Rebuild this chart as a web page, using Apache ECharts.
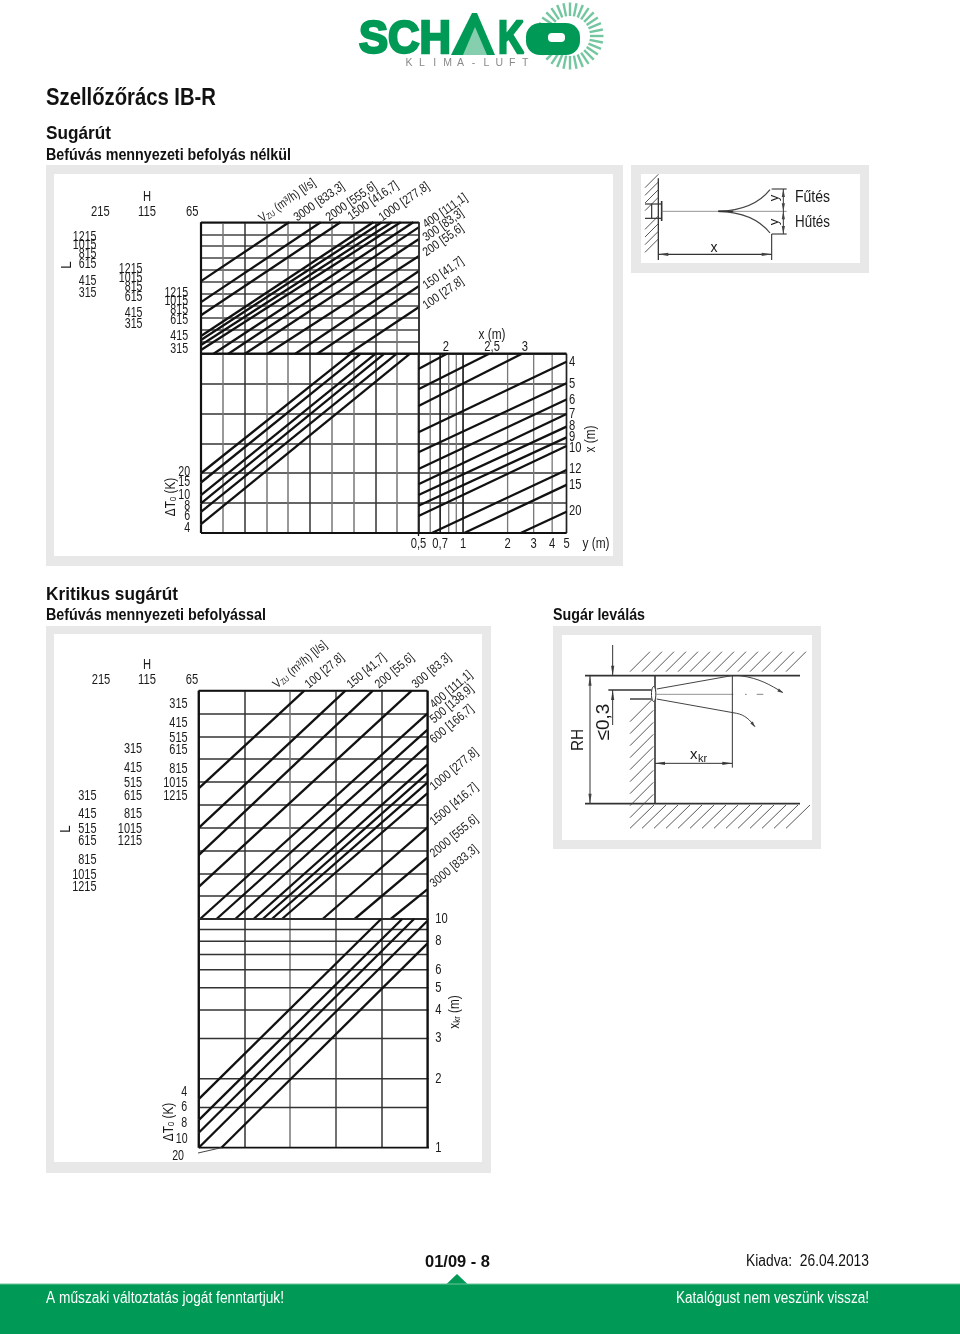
<!DOCTYPE html>
<html><head><meta charset="utf-8">
<style>html,body{margin:0;padding:0;background:#fff}#c{width:960px;height:1334px}</style>
<script src="https://cdn.jsdelivr.net/npm/echarts@6/dist/echarts.min.js"></script>
</head><body><div id="c"></div>
<script>
// ---------- data ----------
// Sugárút, upper panel: air-flow lines [col0,row0,col1,row1]
const jetFlowLines=[[0,6.09,4.04,11],[0,4.33,5.49,11],[0,3.23,6.40,11],[0,1.50,7.90,11],[0,1.17,8.29,11],[0,0.75,8.75,11],[0,0.33,9.16,11],[0.56,0,9.74,11],[1.24,0,10,10.6],[2.0,0,10,9.60],[3.03,0,10,8.19],[4.31,0,10,6.93],[5.32,0,10,5.68],[6.76,0,10,3.93]];
const jetFlowLabels=["3000 [833,3]","2000 [555,6]","1500 [416,7]","1000 [277,8]","400 [111,1]","300 [83,3]","200 [55,6]","150 [41,7]","100 [27,8]"];
const sizeLabels=["1215","1015","815","615","415","315"];
const jetRows215=[9.76,9.07,8.34,7.49,6.11,5.12];
const jetRows115=[7.08,6.37,5.62,4.78,3.41,2.51];
const jetRows65=[5.07,4.43,3.68,2.84,1.45,0.42];
// Sugárút, lower left: temperature lines
const jetDT=["20","15","10","8","6","4"];
const jetDTStart=[2.0,1.69,1.27,0.99,0.71,0.30];
const jetDTEnd=[6.88,7.33,8.01,8.41,8.98,9.59];
// Sugárút, right: throw lines, y(m) on a log axis
const throwLabels=["2","2,5","3","4","5","6","7","8","9","10","12","15","20"];
const throwStartY=[0.5,0.5,0.5,0.5,0.5,0.5,0.5,0.5,0.5,0.5,0.615,1.018,2.45];
const throwStartRow=[5.49,4.81,4.25,3.37,2.70,2.14,1.63,1.27,0.91,0.57,0,0,0];
const throwEndY=[0.777,1.50,2.5,5,5,5,5,5,5,5,5,5,5];
const throwEndRow=[6,6,6,5.73,5.01,4.47,3.98,3.56,3.20,2.91,2.11,1.61,0.71];
const yTicks=[0.5,0.6,0.7,0.8,0.9,1,2,3,4,5];
const yTickLabels=["0,5","0,7","1","2","3","4","5"];
const yTickLabelValues=[0.5,0.7,1,2,3,4,5];
// Kritikus sugárút, upper panel
const kritFlowLines=[[0,5.72,2.31,10],[0,3.99,3.21,10],[0,2.80,3.81,10],[0,1.41,4.66,10],[0.03,0,5,9.0],[0.39,0,5,8.28],[0.80,0,5,7.59],[1.20,0,5,6.77],[1.40,0,5,6.38],[1.60,0,5,5.97],[1.82,0,5,5.5],[2.71,0,5,4.0],[3.41,0,5,2.69],[4.20,0,5,1.30]];
const kritFlowLabels=["100 [27,8]","150 [41,7]","200 [55,6]","300 [83,3]","400 [111,1]","500 [138,9]","600 [166,7]","1000 [277,8]","1500 [416,7]","2000 [555,6]","3000 [833,3]"];
const kritSizes=["315","415","515","615","815","1015","1215"];
const kritRows65=[9.40,8.60,7.94,7.40,6.58,5.93,5.40];
const kritRows115=[7.42,6.60,5.94,5.40,4.58,3.93,3.39];
const kritRows215=[5.40,4.60,3.94,3.39,2.58,1.91,1.39];
// Kritikus sugárút, lower panel: x_kr on a log axis
const xkrLines=[1,1.5,2,3,4,5,6,7,8,9,10];
const xkrLabelled=[1,2,3,4,5,6,8,10];
const kritDT=["4","6","8","10","20"];
const kritDTStartCol=[0,0,0,0,0.496];
const kritDTStartX=[1.63,1.32,1.163,1.0,1.0];
const kritDTEndCol=[3.99,4.45,4.71,5,5];
const kritDTEndX=[10,10,10,9.8,7.8];

// ---------- helpers ----------
const FF='"Liberation Sans Narrow","Liberation Sans",Arial,sans-serif';
const GREEN='#009a56', INK='#111', DIAG=2.3;
const series=[];
function seg(g,pts,w,col,z){series.push({type:'line',xAxisIndex:g,yAxisIndex:g,data:pts,symbol:'none',silent:true,animation:false,clip:false,z:z||3,lineStyle:{width:w,color:col||INK,cap:'butt'}});}
const darkGray='#333',midGray='#777';
const cycle=[darkGray,midGray,darkGray,midGray,midGray,darkGray,midGray,midGray,darkGray,midGray,INK];
function valAxis(min,max,colors,w){return {type:'value',min,max,interval:1,axisLabel:{show:false},axisTick:{show:false},axisLine:{show:false},splitLine:{show:true,lineStyle:{color:colors,width:w||1.5}}};}
function logAxis(min,max){return {type:'log',logBase:10,min,max,axisLabel:{show:false},axisTick:{show:false},axisLine:{show:false},splitLine:{show:false},minorSplitLine:{show:false}};}
const grids=[
 {left:201,top:222.3,width:218,height:131.7},
 {left:201,top:353.7,width:218,height:179.3},
 {left:418.5,top:353.7,width:148,height:179.3},
 {left:198.7,top:690.7,width:228.6,height:228.3},
 {left:198.7,top:919,width:228.6,height:228.7}
];
const xAxes=[valAxis(0,10,cycle),valAxis(0,10,cycle),logAxis(0.5,5),
 valAxis(0,5,[INK,darkGray,midGray,'#444',darkGray,INK]),valAxis(0,5,[INK,darkGray,midGray,'#444',darkGray,INK])];
const yAxes=[valAxis(0,11,['#444']),valAxis(0,6,['#333']),valAxis(0,6,['#333']),valAxis(0,10,['#333']),logAxis(1,10)];
xAxes.forEach((a,i)=>a.gridIndex=i);yAxes.forEach((a,i)=>a.gridIndex=i);

jetFlowLines.forEach(l=>seg(0,[[l[0],l[1]],[l[2],l[3]]],DIAG));
const jetCols=[-4.61,-2.5,-0.41];
[[jetRows215,0],[jetRows115,1],[jetRows65,2]].forEach(([rows,k])=>{
 seg(0,[[jetCols[k],0],[jetCols[k],11]],k==2?2:1.4,k==2?'#555':INK);
 rows.forEach(r=>seg(0,[[jetCols[k]-0.16,r],[jetCols[k],r]],1,'#444'));
});
seg(0,[[0,0],[0,11]],2.2); seg(0,[[0,11],[10,11]],1.8); seg(0,[[10,0],[10,11]],1.5,'#333');
seg(1,[[0,0],[0,6]],2.2); seg(1,[[0,0],[10,0]],1.8); seg(1,[[0,6],[10,6]],2.2);
jetDTEnd.forEach((e,i)=>seg(1,[[0,jetDTStart[i]],[e,6]],DIAG));
const dtLeaderRow=[2.02,1.70,1.27,0.91,0.55,0.15];
jetDT.forEach((t,i)=>seg(1,[[-0.45,dtLeaderRow[i]+0.02],[0,jetDTStart[i]]],1,'#444'));
yTicks.forEach(v=>{const b=(v===0.7||v===1||v===0.5||v===5);seg(2,[[v,0],[v,6]],b?1.7:1.3,b?'#222':midGray);});
seg(2,[[0.5,-0.1],[0.5,0]],1.3);
seg(2,[[0.5,0],[5,0]],1.8); seg(2,[[0.5,6],[5,6]],2.2);
throwEndY.forEach((e,i)=>seg(2,[[throwStartY[i],throwStartRow[i]],[e,throwEndRow[i]]],DIAG));
kritFlowLines.forEach(l=>seg(3,[[l[0],l[1]],[l[2],l[3]]],DIAG));
const kritCols=[-2.144,-1.147,-0.153];
[[kritRows215,0],[kritRows115,1],[kritRows65,2]].forEach(([rows,k])=>{
 seg(3,[[kritCols[k],0],[kritCols[k],10]],k==2?2:1.4,k==2?'#555':INK);
 rows.forEach(r=>seg(3,[[kritCols[k]-0.08,r],[kritCols[k],r]],1,'#444'));
});
seg(3,[[0,0],[0,10]],2.2); seg(3,[[0,10],[5,10]],1.8); seg(3,[[5,0],[5,10]],1.8);seg(3,[[0,0],[5.11,0]],2);
xkrLines.forEach(v=>seg(4,[[0,v],[xkrLabelled.includes(v)?5.11:5,v]],v===1?1.8:1.5,v===1?INK:'#333'));
seg(4,[[0,1],[0,10]],2.2);seg(4,[[5,1],[5,10]],1.8);
kritDTEndCol.forEach((e,i)=>seg(4,[[kritDTStartCol[i],kritDTStartX[i]],[e,kritDTEndX[i]]],DIAG));
const kritLeaderX=[1.756,1.50,1.277,1.087,0.92];
const kritLeaderCol=[-0.23,-0.23,-0.23,-0.22,-0.3];
kritDT.forEach((t,i)=>seg(4,[[kritLeaderCol[i],kritLeaderX[i]],[kritDTStartCol[i],kritDTStartX[i]]],1,'#444'));

const chart=echarts.init(document.getElementById('c'),null,{renderer:'canvas',width:960,height:1334});
chart.setOption({animation:false,backgroundColor:'#fff',grid:grids,xAxis:xAxes,yAxis:yAxes,series});

// ---------- text and decoration ----------
const meas=document.createElement('canvas').getContext('2d');
meas.font='20px "Liberation Sans Narrow",monospace';const wN=meas.measureText('1215 abc').width;
meas.font='20px monospace';const wM=meas.measureText('1215 abc').width;
const hasNarrow=wN!==wM;
const nf=hasNarrow?1.2:1;
const els=[];
function T(x,y,text,size,o){o=o||{};const weight=o.bold?'bold ':'';const font=weight+size+'px '+FF;let sx=(o.sx||0.8)*nf;
 if(o.w){meas.font=font;sx=o.w/meas.measureText(text).width;}
 els.push({type:'text',silent:true,z:20,x,y,rotation:(o.rot||0)*Math.PI/180,scaleX:sx,scaleY:1,style:{text,font,fill:o.color||'#1a1a1a',align:o.align||'left',verticalAlign:o.va||'middle',stroke:o.stroke||null,lineWidth:o.stroke?(o.lw||1):0}});}
function R(x,y,w,h,fill,z,r){els.push({type:'rect',silent:true,z:z==null?-1:z,shape:{x,y,width:w,height:h,r:r||0},style:{fill}});}
function L(x1,y1,x2,y2,w,c){els.push({type:'line',silent:true,z:10,shape:{x1,y1,x2,y2},style:{stroke:c||'#222',lineWidth:w||1}});}
function PG(points,fill,z){els.push({type:'polygon',silent:true,z:z||10,shape:{points},style:{fill}});}
function B(p,w,c){els.push({type:'bezierCurve',silent:true,z:10,shape:{x1:p[0],y1:p[1],cpx1:p[2],cpy1:p[3],cpx2:p[4],cpy2:p[5],x2:p[6],y2:p[7]},style:{stroke:c||'#333',lineWidth:w||1,fill:null}});}
function arrow(x,y,ang,len,c){const a=ang*Math.PI/180,s=1.6;const bx=x-Math.cos(a)*len,by=y-Math.sin(a)*len;PG([[x,y],[bx-Math.sin(a)*s,by+Math.cos(a)*s],[bx+Math.sin(a)*s,by-Math.cos(a)*s]],c||'#444');}
function sub(x,y,rot,t1,s,t2,size,sx,align){els.push({type:'text',silent:true,z:20,x,y,rotation:rot*Math.PI/180,scaleX:(sx||0.8)*nf,style:{text:'{a|'+t1+'}{b|'+s+'}{a|'+t2+'}',align:align||'left',verticalAlign:align?'middle':'bottom',rich:{a:{font:size+'px '+FF,fill:'#1a1a1a'},b:{font:(size-4.5)+'px '+FF,fill:'#1a1a1a',verticalAlign:'bottom'}}}});}
const px=(g,x,y)=>chart.convertToPixel({xAxisIndex:g,yAxisIndex:g},[x,y]);

// frames
[[46,165,577,401,54,174,559,382],[631,165,238,108,641,174,219,89],[46,626,445,547,54,634,428,528],[553,626,268,223,562,635,250,205]].forEach(f=>{R(f[0],f[1],f[2],f[3],'#e8e8e8',-2);R(f[4],f[5],f[6],f[7],'#fff',-1);});

// titles
T(46,98.5,'Szellőzőrács IB-R',23,{bold:1,w:170,color:'#111'});
T(46,134,'Sugárút',19,{bold:1,w:65,color:'#111'});
T(46,156,'Befúvás mennyezeti befolyás nélkül',16,{bold:1,w:245,color:'#111'});
T(46,595,'Kritikus sugárút',19,{bold:1,w:132,color:'#111'});
T(46,616,'Befúvás mennyezeti befolyással',16,{bold:1,w:220,color:'#111'});
T(553,616,'Sugár leválás',16,{bold:1,w:92,color:'#111'});
// footer
R(0,1284,960,50,GREEN,5);
L(0,1284,960,1284,1,'#6cc39a');
PG([[446,1284.5],[457,1274],[468,1284.5]],GREEN,6);
T(425,1262,'01/09 - 8',17,{bold:1,w:65,color:'#111'});
T(746,1262,'Kiadva:  26.04.2013',16,{w:123,color:'#111'});
T(46,1299,'A műszaki változtatás jogát fenntartjuk!',16,{w:238,color:'#fff'});
T(676,1299,'Katalógust nem veszünk vissza!',16,{w:193,color:'#fff'});

// logo
for(let i=0;i<32;i++){const a=i*11.25*Math.PI/180;const cx=570,cy=36;L(cx+Math.cos(a)*20,cy+Math.sin(a)*20,cx+Math.cos(a)*33.5,cy+Math.sin(a)*33.5,2.4,'#74c6a0');}
T(359,40,'SCH',46,{bold:1,w:92,color:GREEN,stroke:GREEN,lw:2.5});
PG([[451,55],[472,13],[477,13],[495,55]],GREEN,11);
PG([[463,55],[475,27],[487,55]],'#85cfae',12);
T(498,40,'K',46,{bold:1,w:26,color:GREEN,stroke:GREEN,lw:2.5});
els.push({type:'rect',silent:true,z:13,shape:{x:526,y:23,width:54,height:32,r:14},style:{fill:GREEN}});
els.push({type:'rect',silent:true,z:14,shape:{x:548,y:33,width:17,height:9,r:4},style:{fill:'#fff'}});
'KLIMA-LUFT'.split('').forEach((c,i)=>T(409+i*12.9,63,c,10.5,{sx:1/nf,color:'#8a8a8a',align:'center'}));

// --- diagram 1 labels
T(91,212,'215',14);T(138,212,'115',14);T(186,212,'65',14);T(143,197,'H',14);
T(67,265,'L',14,{rot:90,align:'center',sx:1/nf});
[jetRows215,jetRows115,jetRows65].forEach((rows,k)=>rows.forEach((r,i)=>{const p=px(0,jetCols[k]-0.16,r);T(p[0]-0.5,p[1],sizeLabels[i],14,{align:'right',sx:0.76});}));
const a1=35;
sub(264,225,a1,'V','ZU',' (m³/h) [l/s]',12.5,0.84);
const jetFlowPos=[[299,224],[331,224],[353,223],[384,224],[428,231],[428,244],[428,259],[428,292],[428,312]];
jetFlowLabels.forEach((t,i)=>T(jetFlowPos[i][0],jetFlowPos[i][1],t,12.5,{rot:a1,va:'bottom',sx:0.84}));
jetDT.forEach((t,i)=>{const p=px(1,-0.45,dtLeaderRow[i]);T(p[0]-1,p[1],t,14,{align:'right',sx:0.76});});
sub(171,497,90,'ΔT','0',' (K)',14,0.84,'center');
['2','2,5','3'].forEach((t,i)=>{const p=px(2,throwEndY[i],6);T(p[0]+(i==0?-1:3),347.5,t,14,{align:'center'});});
T(492,335,'x (m)',14,{align:'center',sx:0.85});
throwLabels.slice(3).forEach((t,i)=>{const rowPx=[362,384,400,414,426,437,448,469,485,511][i];T(569,rowPx,t,14,{});});
T(591,439,'x (m)',14,{rot:90,align:'center',sx:0.85});
yTickLabels.forEach((t,i)=>{const p=px(2,yTickLabelValues[i],0);T(p[0],544,t,14,{align:'center'});});
T(596,544,'y (m)',14,{align:'center',sx:0.85});

// --- diagram 2 labels
T(101,680,'215',14,{align:'center'});T(147,680,'115',14,{align:'center'});T(192,680,'65',14,{align:'center'});T(147,665,'H',14,{align:'center'});
T(66,829,'L',14,{rot:90,align:'center',sx:1/nf});
[kritRows215,kritRows115,kritRows65].forEach((rows,k)=>rows.forEach((r,i)=>{const p=px(3,kritCols[k]-0.08,r);T(p[0]-0.5,p[1],kritSizes[i],14,{align:'right',sx:0.78});}));
const a2=40;
sub(279,691,a2,'V','ZU',' (m³/h) [l/s]',12.5,0.84);
const kritFlowPos=[[311,691],[353,691],[381,691],[418,691],[436,711],[436,726],[436,746],[436,793],[436,828],[436,860],[436,890]];
kritFlowLabels.forEach((t,i)=>T(kritFlowPos[i][0],kritFlowPos[i][1],t,12.5,{rot:a2,va:'bottom',sx:0.84}));
xkrLabelled.forEach(v=>{const p=px(4,5.11,v);T(p[0]+3,p[1],String(v),14,{});});
kritDT.forEach((t,i)=>{const p=px(4,kritLeaderCol[i],kritLeaderX[i]);T(p[0]-1,p[1],t,14,{align:'right',sx:0.76});});
sub(169,1122,90,'ΔT','0',' (K)',14,0.84,'center');
sub(455,1012,90,'x','kr',' (m)',14,0.84,'center');

// --- schematic: Fűtés / Hűtés
const f1=(x,y)=>[630+x/3,165+y/3];
const l1=(a,b,c,d,w,col)=>{const p=f1(a,b),q=f1(c,d);L(p[0],p[1],q[0],q[1],w,col);};
l1(85,40,85,285,1.3,'#333');
for(let y=50;y<=120;y+=23){l1(45,y+18,85,y-22,0.9,'#444');}
for(let y=175;y<=250;y+=23){l1(45,y+18,85,y-22,0.9,'#444');}
l1(45,117,95,117,1.2,'#333');l1(45,160,95,160,1.2,'#333');l1(65,117,65,160,1.2,'#333');l1(95,108,95,168,1.6,'#333');
l1(95,139,470,139,0.8,'#777');
B([...f1(265,139),...f1(340,137),...f1(390,112),...f1(420,74)],1.2,'#444');
B([...f1(265,139),...f1(340,141),...f1(390,166),...f1(420,204)],1.2,'#444');
l1(265,139,310,139,1.6,'#333');
l1(425,72,470,72,1.1,'#333');l1(425,207,470,207,1.1,'#333');
l1(425,207,425,285,1.1,'#333');l1(460,72,460,207,1,'#333');
l1(85,268,425,268,1.1,'#333');
{let p=f1(85,268);arrow(p[0],p[1],180,10);p=f1(425,268);arrow(p[0],p[1],0,10);p=f1(460,72);arrow(p[0],p[1],-90,8);p=f1(460,139);arrow(p[0],p[1],90,8);p=f1(460,139);arrow(p[0],p[1],-90,8);p=f1(460,207);arrow(p[0],p[1],90,8);}
T(714,248,'x',14,{align:'center',sx:1/nf});
T(774,198,'y',13,{rot:90,align:'center',sx:1/nf});T(774,222,'y',13,{rot:90,align:'center',sx:1/nf});
T(795,198,'Fűtés',16,{w:35});T(795,223,'Hűtés',16,{w:35});

// --- schematic: Sugár leválás
const f2=(x,y)=>[550+x/3,625+y/3];
const l2=(a,b,c,d,w,col)=>{const p=f2(a,b),q=f2(c,d);L(p[0],p[1],q[0],q[1],w,col);};
l2(105,152,750,152,1.6,'#333');l2(105,536,750,536,1.6,'#333');l2(315,152,315,536,1.6,'#333');
for(let x=300;x<=770;x+=36){l2(x-60,140,x,80,0.9,'#444');}
for(let x=280;x<=770;x+=36){l2(x-40,610,x+32,540,0.9,'#444');}
for(let y=250;y<=540;y+=36){l2(240,y+40,310,y-30,0.9,'#444');}
l2(120,152,120,536,1,'#333');
{let p=f2(120,152);arrow(p[0],p[1],-90,10);p=f2(120,536);arrow(p[0],p[1],90,10);p=f2(188,152);arrow(p[0],p[1],90,10);p=f2(188,195);arrow(p[0],p[1],-90,10);p=f2(315,415);arrow(p[0],p[1],180,10);p=f2(547,415);arrow(p[0],p[1],0,10);}
l2(188,60,188,152,1,'#333');l2(188,195,188,300,1,'#333');
l2(175,195,305,195,1.4,'#333');l2(240,222,305,222,1.4,'#333');
els.push({type:'ellipse',silent:true,z:11,shape:{cx:f2(311,0)[0],cy:f2(0,207)[1],rx:2.2,ry:7.5},style:{fill:'#fff',stroke:'#333',lineWidth:1}});
l2(320,192,545,152,1,'#444');l2(320,222,560,265,1,'#444');
B([...f2(560,265),...f2(585,270),...f2(600,285),...f2(615,305)],1,'#444');
B([...f2(570,152),...f2(630,160),...f2(660,180),...f2(698,202)],1,'#444');
{let p=f2(615,307);arrow(p[0],p[1],55,6);p=f2(700,204);arrow(p[0],p[1],30,6);}
l2(320,208,550,208,0.8,'#777');l2(585,208,590,208,0.9,'#777');l2(620,208,640,208,0.9,'#777');
l2(547,152,547,428,1,'#333');l2(315,415,547,415,1,'#333');
T(690,755,'x',15,{sx:1/nf});T(698,759,'kr',11,{sx:1/nf});
T(578,740,'RH',17,{rot:90,align:'center',sx:0.9/nf});
T(604,722,'≤0,3',19,{rot:90,align:'center',sx:1/nf});

chart.setOption({graphic:{elements:els}});
</script></body></html>
